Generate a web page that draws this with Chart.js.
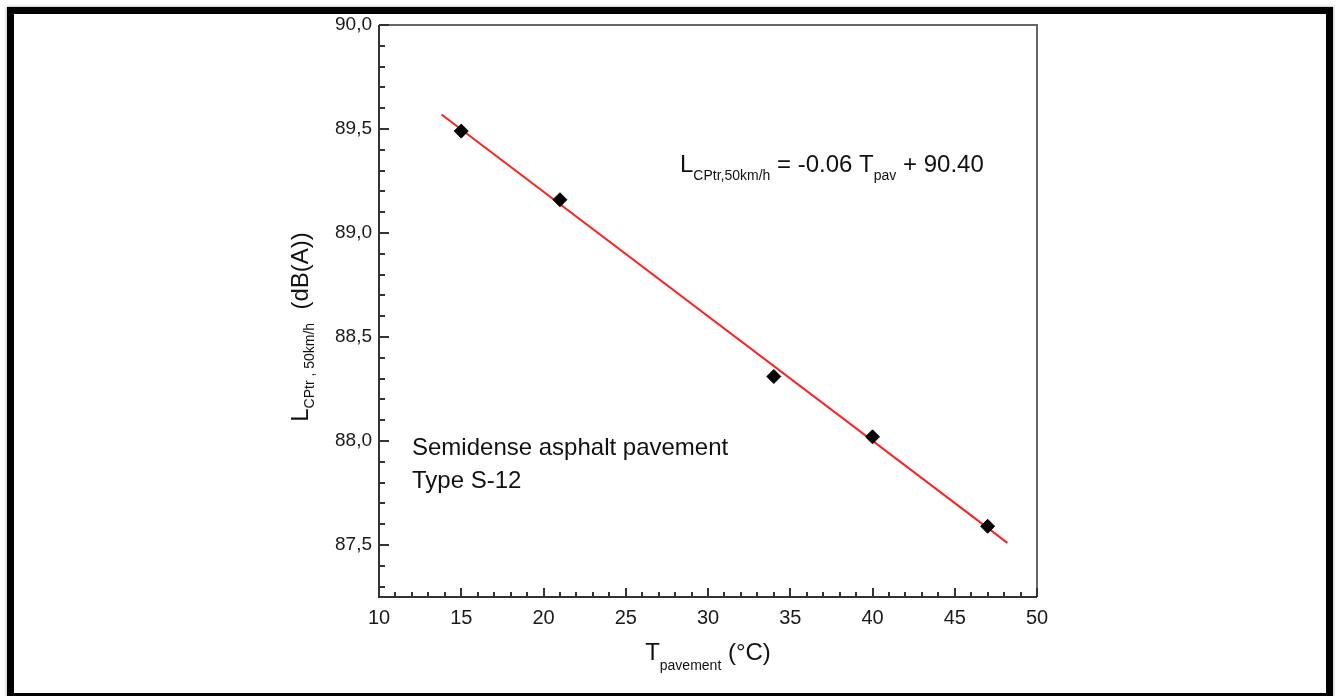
<!DOCTYPE html>
<html>
<head>
<meta charset="utf-8">
<script src="https://cdn.jsdelivr.net/npm/chart.js@4.4.1/dist/chart.umd.min.js"></script>
<style>
  html, body { margin: 0; padding: 0; background: #fff; overflow: hidden; }
  #wrap { position: relative; width: 1338px; height: 696px; }
  #frame {
    position: absolute; left: 7px; top: 7px; width: 1312px; height: 679px;
    border: 7px solid #000; box-shadow: 0 0 3px #999; pointer-events: none;
  }
</style>
</head>
<body>
<div id="wrap">
  <canvas id="chart" width="1338" height="696"></canvas>
  <div id="frame"></div>
</div>
<script>
// measured points: pavement temperature (°C) vs L_CPtr,50km/h (dB(A))
const tempC = [15, 21, 34, 40, 47];
const noiseLevel = [89.49, 89.16, 88.31, 88.02, 87.59];

// regression line L = -0.06 T + 90.40, drawn over its plotted extent
const fitT = [13.8, 48.2];
const fitL = [89.57, 87.51];

const xTicks = [10, 15, 20, 25, 30, 35, 40, 45, 50];
const yTicks = [87.5, 88.0, 88.5, 89.0, 89.5, 90.0];
const xMinorStep = 1;
const yMinorStep = 0.1;

const FONT = '"Liberation Sans", Arial, sans-serif';

// draws a run of text pieces (normal + subscript) from x along the baseline
function richText(ctx, parts, x, y) {
  let cx = x;
  parts.forEach(p => {
    ctx.font = p.size + 'px ' + FONT;
    ctx.fillText(p.t, cx, y + (p.dy || 0));
    cx += ctx.measureText(p.t).width;
  });
  return cx - x;
}
function richWidth(ctx, parts) {
  let w = 0;
  parts.forEach(p => {
    ctx.font = p.size + 'px ' + FONT;
    w += ctx.measureText(p.t).width;
  });
  return w;
}

const decor = {
  id: 'decor',
  afterDraw(chart) {
    const ctx = chart.ctx;
    const { left, right, top, bottom } = chart.chartArea;
    const sx = chart.scales.x, sy = chart.scales.y;
    ctx.save();

    // plot box
    ctx.lineWidth = 2;
    ctx.strokeStyle = '#666';
    ctx.beginPath();
    ctx.moveTo(left, top); ctx.lineTo(right, top); ctx.lineTo(right, bottom);
    ctx.stroke();
    ctx.strokeStyle = '#333';
    ctx.beginPath();
    ctx.moveTo(left, top); ctx.lineTo(left, bottom); ctx.lineTo(right, bottom);
    ctx.stroke();

    // inward tick marks
    ctx.lineWidth = 2;
    ctx.strokeStyle = '#333';
    ctx.beginPath();
    for (let v = sx.min; v <= sx.max + 1e-9; v += xMinorStep) {
      const px = Math.round(sx.getPixelForValue(v));
      const major = xTicks.some(t => Math.abs(t - v) < 1e-6);
      ctx.moveTo(px, bottom); ctx.lineTo(px, bottom - (major ? 9 : 5));
    }
    const k = Math.floor((yTicks[0] - sy.min) / yMinorStep + 1e-6);
    for (let i = 0; ; i++) {
      const v = yTicks[0] - k * yMinorStep + i * yMinorStep;
      if (v > sy.max + 1e-6) break;
      const py = Math.round(sy.getPixelForValue(v));
      const major = yTicks.some(t => Math.abs(t - v) < 1e-6);
      ctx.moveTo(left, py); ctx.lineTo(left + (major ? 10 : 6), py);
    }
    ctx.stroke();

    ctx.fillStyle = '#111';
    ctx.textBaseline = 'alphabetic';
    ctx.textAlign = 'left';

    // x axis title
    const xt = [
      { t: 'T', size: 24 },
      { t: 'pavement', size: 14, dy: 10 },
      { t: ' (°C)', size: 24 }
    ];
    const xw = richWidth(ctx, xt);
    richText(ctx, xt, (left + right) / 2 - xw / 2, 660);

    // y axis title (rotated)
    const yt = [
      { t: 'L', size: 24 },
      { t: 'CPtr , 50km/h', size: 14, dy: 6 },
      { t: '  (dB(A))', size: 24 }
    ];
    const yw = richWidth(ctx, yt);
    ctx.save();
    ctx.translate(308, (top + bottom) / 2 + 16);
    ctx.rotate(-Math.PI / 2);
    richText(ctx, yt, -yw / 2, 0);
    ctx.restore();

    // regression equation
    richText(ctx, [
      { t: 'L', size: 24 },
      { t: 'CPtr,50km/h', size: 14, dy: 8 },
      { t: ' = -0.06 T', size: 24 },
      { t: 'pav', size: 14, dy: 8 },
      { t: ' + 90.40', size: 24 }
    ], 680, 172);

    // pavement label
    ctx.font = '24px ' + FONT;
    ctx.fillText('Semidense asphalt pavement', 412, 455);
    ctx.fillText('Type S-12', 412, 488);

    ctx.restore();
  }
};

const ctx = document.getElementById('chart').getContext('2d');

new Chart(ctx, {
  type: 'scatter',
  data: {
    datasets: [{
      label: 'Measured',
      data: tempC.map((t, i) => ({ x: t, y: noiseLevel[i] })),
      backgroundColor: '#000',
      borderColor: '#000',
      pointStyle: 'rectRot',
      pointRadius: 7,
      borderWidth: 1
    }, {
      label: 'Fit',
      data: fitT.map((t, i) => ({ x: t, y: fitL[i] })),
      showLine: true,
      borderColor: '#ff2020',
      borderWidth: 2,
      pointRadius: 0
    }]
  },
  options: {
    responsive: false,
    animation: false,
    layout: { padding: { left: 319, right: 301, top: 25, bottom: 59 } },
    plugins: { legend: { display: false }, tooltip: { enabled: false } },
    scales: {
      x: {
        type: 'linear',
        min: 10,
        max: 50,
        afterBuildTicks: (s) => { s.ticks = xTicks.map(v => ({ value: v })); },
        afterFit: (s) => { s.height = 40; },
        grid: { display: false, drawTicks: false },
        border: { display: false },
        ticks: {
          padding: 9,
          maxRotation: 0,
          color: '#1a1a1a',
          font: { family: FONT, size: 20 },
          callback: (v) => String(v)
        }
      },
      y: {
        type: 'linear',
        min: 87.25,
        max: 90,
        afterBuildTicks: (s) => { s.ticks = yTicks.map(v => ({ value: v })); },
        afterFit: (s) => { s.width = 60; },
        grid: { display: false, drawTicks: false },
        border: { display: false },
        ticks: {
          padding: 7,
          color: '#1a1a1a',
          font: { family: FONT, size: 19 },
          callback: (v) => Number(v).toFixed(1).replace('.', ',')
        }
      }
    }
  },
  plugins: [decor]
});
</script>
</body>
</html>
